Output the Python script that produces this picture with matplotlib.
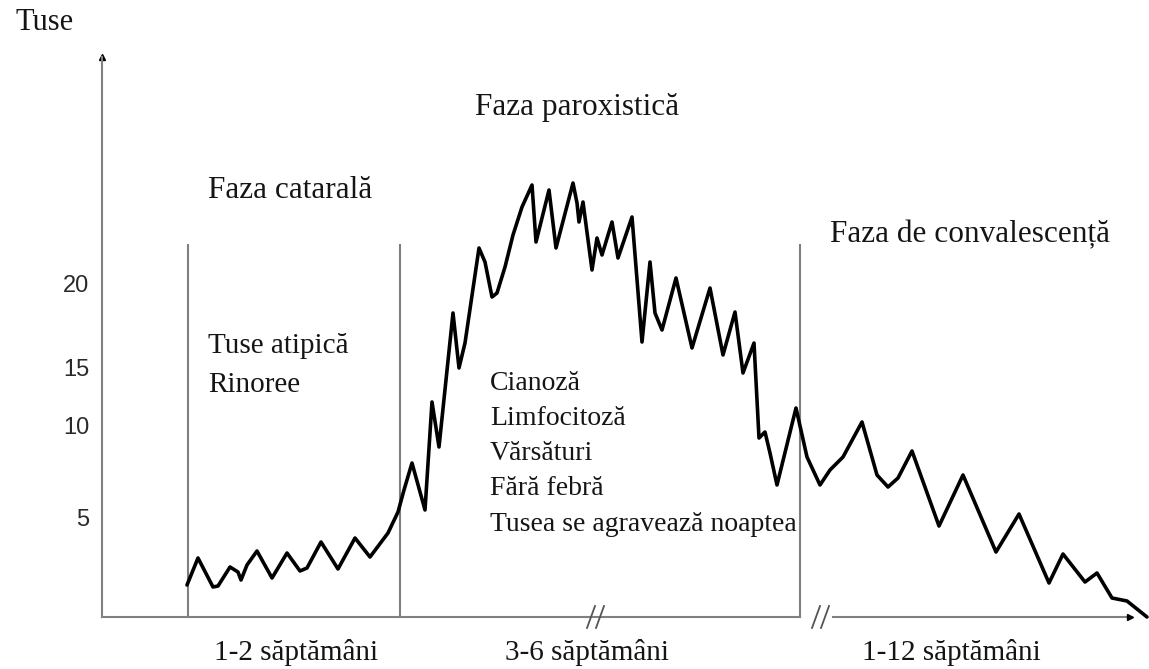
import matplotlib

matplotlib.use("Agg")
import matplotlib.pyplot as plt

# Schematic cough curve: time along the axis, cough intensity (arbitrary units)
time = [85, 96, 111, 116, 128, 136, 139, 145, 155, 170, 185, 198, 205, 219, 236,
        253, 268, 286, 296, 302, 310, 323, 330, 337, 351, 357, 363, 377, 383, 390,
        395, 403, 411, 420, 430, 434, 447, 454, 471, 475, 477, 481, 490, 495, 500,
        510, 516, 530, 540, 548, 553, 560, 574, 590, 608, 621, 633, 641, 652, 657,
        663, 668, 675, 694, 705, 718, 728, 741, 760, 775, 786, 796, 810, 837, 861,
        894, 917, 947, 961, 983, 995, 1010, 1025, 1045]
cough = [32, 59, 30, 31, 50, 45, 37, 52, 66, 39, 64, 46, 49, 75, 48,
         79, 60, 84, 105, 127, 154, 107, 215, 170, 304, 249, 274, 369, 355, 320,
         324, 350, 382, 410, 432, 375, 427, 369, 434, 414, 395, 415, 347, 379, 362,
         395, 359, 400, 275, 355, 304, 287, 339, 269, 329, 262, 305, 244, 274, 179,
         185, 164, 132, 209, 160, 132, 147, 160, 195, 142, 130, 139, 166, 91, 142,
         65, 103, 34, 63, 35, 44, 19, 16, 0]

tick_pos = [100, 191, 249, 333]
tick_labels = ["5", "10", "15", "20"]

phase_edges = [86, 298, 698]
phase_names = ["Faza catarală", "Faza paroxistică", "Faza de convalescență"]
durations = ["1-2 săptămâni", "3-6 săptămâni", "1-12 săptămâni"]
catarrhal_signs = ["Tuse atipică", "Rinoree"]
paroxysmal_signs = ["Cianoză", "Limfocitoză", "Vărsături", "Fără febră",
                    "Tusea se agravează noaptea"]

SERIF = "Liberation Serif"
GREY = "#808080"

fig = plt.figure(figsize=(11.49, 6.69), dpi=100)
ax = fig.add_axes([0, 0, 1, 1])
ax.set_xlim(-102, 1047)
ax.set_ylim(-52, 617)
for s in ["top", "right", "bottom"]:
    ax.spines[s].set_visible(False)

# y axis on the left spine, with an arrowhead
ax.spines["left"].set_position(("data", 0))
ax.spines["left"].set_bounds(0, 560)
ax.spines["left"].set_color(GREY)
ax.spines["left"].set_linewidth(1.5)
ax.plot(0, 560, marker="^", color="black", ms=5, clip_on=False)
ax.set_xticks([])
ax.set_yticks(tick_pos, tick_labels, fontsize=17, fontfamily="Liberation Sans",
              color="#2a2a2a")
ax.tick_params(axis="y", length=0, pad=9)

# broken time axis with // marks
ax.plot([0, 698], [0, 0], color=GREY, lw=1.5)
ax.plot([731, 1026], [0, 0], color=GREY, lw=1.5)
ax.plot(1028, 0, marker=">", color="black", ms=5)
for xb in [494, 719]:
    for dx in [-5, 4]:
        ax.plot([xb + dx - 4, xb + dx + 4], [-11, 11], color="#555555", lw=1.3)

# phase boundaries
for xe in phase_edges:
    ax.plot([xe, xe], [0, 372], color=GREY, lw=1.5)

ax.plot(time, cough, color="black", lw=2.6, solid_joinstyle="round",
        solid_capstyle="round", clip_on=False)

txt = dict(fontfamily=SERIF, color="#151515", va="center")
ax.text(-86, 595, "Tuse", fontsize=22, **txt)
ax.text(106, 427, phase_names[0], fontsize=22.5, **txt)
ax.text(475, 510, phase_names[1], fontsize=22.5, ha="center", **txt)
ax.text(728, 382, phase_names[2], fontsize=22.5, **txt)

for i, s in enumerate(catarrhal_signs):
    ax.text(106, 271 - i * 39, s, fontsize=21, **txt)
for i, s in enumerate(paroxysmal_signs):
    ax.text(388, 234 - i * 35.3, s, fontsize=20, **txt)

for xc, s in zip([194, 485, 849], durations):
    ax.text(xc, -35, s, fontsize=21, ha="center", **txt)

fig.savefig("out.png", dpi=100)
plt.close(fig)
